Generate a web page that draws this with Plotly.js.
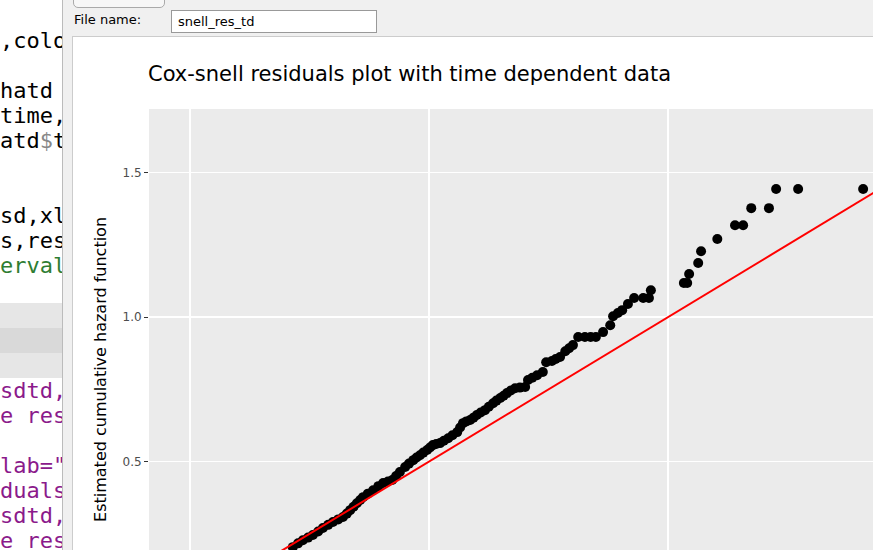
<!DOCTYPE html>
<html>
<head>
<meta charset="utf-8">
<script src="https://cdn.plot.ly/plotly-3.0.1.min.js"></script>
<style>
  body { margin: 0; width: 873px; height: 550px; overflow: hidden; position: relative; background: #fff; font-family: "DejaVu Sans", sans-serif; }
  #code { position: absolute; left: 0; top: 0; width: 62px; height: 550px; font-family: "DejaVu Sans Mono", monospace; font-size: 22px; line-height: 25px; white-space: pre; overflow: hidden; }
  #code div { height: 25px; }
  #dialog { position: absolute; left: 62px; top: 0; width: 811px; height: 550px; background: #f0f0f0; border-left: 1px solid #bbb; }
  #fname-label { position: absolute; left: 11px; top: 12px; font-size: 13px; }
  #fname { position: absolute; left: 108px; top: 10px; width: 198px; height: 21px; border: 1px solid #999; background: #fff; font-size: 13px; line-height: 21px; padding-left: 6px; }
  #btn { position: absolute; left: 10px; top: -12px; width: 90px; height: 18px; border: 1px solid #aaa; border-radius: 5px; background: #f7f7f7; }
  #plot { position: absolute; left: 72px; top: 36px; width: 1000px; height: 700px; border-left: 1px solid #ccc; border-top: 1px solid #ccc; }
</style>
</head>
<body>
<div id="code">
<div style="margin-top:3px">,colo</div><div></div><div>hatd</div><div>time,</div><div>atd<span style="color:#888">$</span>t</div><div></div><div></div><div>sd,xl</div><div>s,res</div><div style="color:#2e7d32">erval</div><div></div><div style="background:#e6e6e6"></div><div style="background:#d9d9d9"></div><div style="background:#e6e6e6"></div><div style="color:#8b1a8b">sdtd,</div><div style="color:#8b1a8b">e res</div><div></div><div style="color:#8b1a8b">lab="</div><div style="color:#8b1a8b">duals</div><div style="color:#8b1a8b">sdtd,</div><div style="color:#8b1a8b">e res</div>
</div>
<div id="dialog">
  <div id="btn"></div>
  <div id="fname-label">File name:</div>
  <div id="fname">snell_res_td</div>
</div>
<div id="plot"></div>
<script>
// Cox-Snell residuals vs estimated cumulative hazard
let resid = [0.215, 0.226, 0.236, 0.247, 0.257, 0.268, 0.278, 0.289, 0.299, 0.310, 0.320, 0.328,
  0.335, 0.342, 0.349, 0.356, 0.362, 0.372, 0.383, 0.394, 0.404, 0.414, 0.423, 0.431,
  0.439, 0.450, 0.458, 0.467, 0.474, 0.481, 0.488, 0.496, 0.502, 0.508, 0.515, 0.523, 0.531,
  0.540, 0.549, 0.559, 0.565, 0.571, 0.578, 0.586, 0.593, 0.600, 0.608, 0.617, 0.625,
  0.634, 0.641, 0.649, 0.656, 0.663, 0.671, 0.680, 0.690, 0.701, 0.707, 0.716, 0.726, 0.738,
  0.745, 0.757, 0.765, 0.774, 0.785, 0.793, 0.801,
  0.812, 0.826, 0.838, 0.849, 0.864, 0.879, 0.885, 0.895, 0.904, 0.916, 0.929, 0.948, 0.960, 0.964, 1.033,
  1.040, 1.044, 1.063, 1.069, 1.103, 1.140, 1.157, 1.174, 1.211, 1.226, 1.272, 1.408];
let cumhaz = [0.204, 0.217, 0.228, 0.237, 0.246, 0.258, 0.270, 0.281, 0.291, 0.300, 0.308, 0.320,
  0.332, 0.344, 0.356, 0.367, 0.377, 0.389, 0.401, 0.415, 0.426, 0.431, 0.436, 0.450,
  0.464, 0.481, 0.493, 0.505, 0.514, 0.522, 0.531, 0.540, 0.549, 0.557, 0.561, 0.564, 0.572,
  0.581, 0.591, 0.602, 0.618, 0.633, 0.639, 0.644, 0.652, 0.661, 0.670, 0.678, 0.690,
  0.702, 0.711, 0.720, 0.728, 0.737, 0.746, 0.754, 0.756, 0.758, 0.782, 0.790, 0.799, 0.810,
  0.844, 0.848, 0.855, 0.862, 0.882, 0.892, 0.903,
  0.931, 0.931, 0.931, 0.931, 0.948, 0.972, 1.003, 1.014, 1.024, 1.045, 1.066, 1.066, 1.066, 1.093, 1.118,
  1.118, 1.149, 1.187, 1.228, 1.270, 1.318, 1.318, 1.377, 1.377, 1.443, 1.443, 1.443];
let refLine = [0, 2];

let data = [
  {
    x: resid,
    y: cumhaz,
    type: 'scatter',
    mode: 'markers',
    marker: { color: '#000000', size: 10 },
    showlegend: false,
  },
  {
    x: refLine,
    y: refLine,
    type: 'scatter',
    mode: 'lines',
    line: { color: '#ff0000', width: 2 },
    showlegend: false,
  },
];

Plotly.newPlot(
  'plot',
  data,
  {
    width: 1000,
    height: 700,
    paper_bgcolor: '#ffffff',
    plot_bgcolor: '#ebebeb',
    margin: { t: 72, r: 0, b: 0, l: 76 },
    title: {
      text: 'Cox-snell residuals plot with time dependent data',
      x: 0.075,
      xanchor: 'left',
      y: 0.948,
      yanchor: 'middle',
      font: { family: 'DejaVu Sans', size: 21, color: '#000' },
    },
    annotations: [
      {
        text: 'Estimated cumulative hazard function',
        xref: 'paper',
        yref: 'paper',
        x: -0.052,
        y: 0.586,
        xanchor: 'center',
        yanchor: 'middle',
        textangle: -90,
        showarrow: false,
        font: { family: 'DejaVu Sans', size: 16, color: '#000' },
      },
    ],
    xaxis: {
      range: [-0.0858, 1.847],
      tickvals: [0, 0.5, 1, 1.5],
      showticklabels: false,
      gridcolor: '#ffffff',
      gridwidth: 1.3,
      zeroline: false,
    },
    yaxis: {
      range: [-0.453, 1.72],
      tickvals: [0, 0.5, 1, 1.5],
      ticktext: ['0.0', '0.5', '1.0', '1.5'],
      ticks: 'outside',
      ticklen: 4,
      tickcolor: '#333',
      tickfont: { family: 'DejaVu Sans', size: 12, color: '#4d4d4d' },
      gridcolor: '#ffffff',
      gridwidth: 1.3,
      zeroline: false,
    },
  },
  { staticPlot: true }
);
</script>
</body>
</html>
